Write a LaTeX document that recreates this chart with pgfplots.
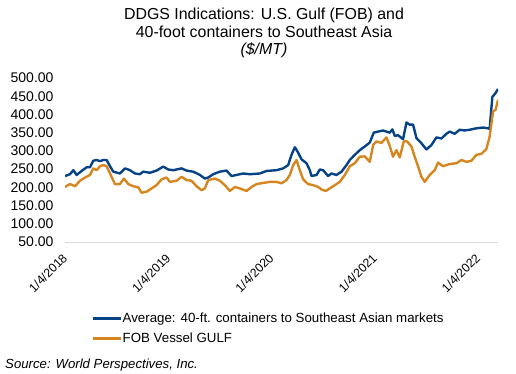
\documentclass[border=0pt]{standalone}
\usepackage{pgfplots}
\pgfplotsset{compat=1.18}
\usepackage{fontspec}
\setmainfont{Liberation Sans}
\definecolor{navy}{RGB}{6,66,134}
\definecolor{gold}{RGB}{214,134,30}
\definecolor{axgray}{RGB}{217,217,217}
\begin{document}
\begin{tikzpicture}
\useasboundingbox (0,0) rectangle (516bp,374bp);
\node[align=center, font=\fontsize{15.9bp}{17.6bp}\selectfont] at (264bp,341bp)
  {DDGS Indications: U.S. Gulf (FOB) and\\40-foot containers to Southeast Asia\\\textit{(\$/MT)}};
\node[anchor=west, font=\fontsize{13.2bp}{15bp}\selectfont\itshape, inner sep=0pt] at (5bp,9bp)
  {Source: World Perspectives, Inc.};
\begin{axis}[
  at={(65bp,132bp)}, anchor=south west,
  scale only axis, width=433bp, height=164bp,
  xmin=0, xmax=4.195, ymin=50, ymax=500,
  ytick={50,100,...,500},
  xtick={0,1,2,3,4},
  xticklabels={1/4/2018,1/4/2019,1/4/2020,1/4/2021,1/4/2022},
  /pgf/number format/assume math mode=true,
  yticklabel style={/pgf/number format/fixed, /pgf/number format/fixed zerofill, /pgf/number format/precision=2,
    font=\fontsize{14bp}{16bp}\selectfont, xshift=-8bp},
  xticklabel style={xshift=0bp, yshift=-14bp, rotate=45, anchor=east, inner sep=0pt, font=\fontsize{12.3bp}{14bp}\selectfont},
  axis x line*=bottom, axis y line*=left,
  x axis line style={draw=axgray, line width=0.9pt, -},
  y axis line style={draw=none},
  tick style={draw=none},
  legend style={at={(0.0624,-0.418)}, anchor=north west, draw=none, fill=none,
    font=\fontsize{13.3bp}{15bp}\selectfont, inner sep=0pt, row sep=5bp,
    nodes={inner xsep=0bp}},
  legend cell align=left,
  legend image code/.code={\draw[#1, line width=2.5pt] (0bp,0bp) -- (28bp,0bp);},
  line join=round,
]
\addplot[navy, line width=2.4pt] coordinates {
(0.000,231)(0.048,236)(0.081,247)(0.113,234)(0.161,245)(0.210,255)(0.242,255)(0.274,273)(0.307,275)(0.339,272)(0.371,275)(0.403,275)(0.436,258)(0.468,243)(0.532,238)(0.581,252)(0.629,247)(0.678,238)(0.726,236)(0.758,243)(0.823,240)(0.887,246)(0.952,257)(1.000,249)(1.049,247)(1.129,252)(1.178,246)(1.242,243)(1.307,234)(1.355,224)(1.388,227)(1.436,236)(1.500,243)(1.565,246)(1.614,231)(1.662,234)(1.726,238)(1.791,236)(1.888,238)(1.953,245)(2.049,247)(2.114,252)(2.162,261)(2.194,289)(2.227,310)(2.259,295)(2.291,277)(2.340,266)(2.372,247)(2.388,231)(2.437,234)(2.469,249)(2.501,247)(2.549,231)(2.581,238)(2.630,234)(2.679,243)(2.727,261)(2.759,275)(2.807,289)(2.856,302)(2.904,312)(2.953,323)(2.991,350)(3.033,353)(3.081,356)(3.114,353)(3.146,350)(3.172,359)(3.195,341)(3.227,343)(3.275,332)(3.308,378)(3.340,372)(3.372,372)(3.405,335)(3.453,321)(3.501,304)(3.550,316)(3.598,337)(3.647,334)(3.695,347)(3.727,353)(3.775,347)(3.824,358)(3.872,356)(3.921,358)(3.985,362)(4.050,364)(4.098,362)(4.114,360)(4.140,448)(4.172,459)(4.195,470)
};
\addlegendentry{Average: 40-ft. containers to Southeast Asian markets}
\addplot[gold, line width=2.4pt] coordinates {
(0.000,201)(0.048,209)(0.097,203)(0.145,218)(0.194,227)(0.242,234)(0.274,252)(0.307,247)(0.339,258)(0.371,261)(0.403,258)(0.436,238)(0.484,209)(0.532,209)(0.571,224)(0.613,209)(0.662,203)(0.710,200)(0.742,185)(0.790,188)(0.839,197)(0.887,206)(0.936,222)(0.984,227)(1.017,215)(1.081,218)(1.129,229)(1.178,220)(1.226,218)(1.275,203)(1.323,192)(1.355,197)(1.388,220)(1.452,224)(1.500,218)(1.549,206)(1.597,190)(1.646,201)(1.694,197)(1.759,190)(1.807,201)(1.856,209)(1.920,212)(1.985,215)(2.049,215)(2.098,211)(2.146,220)(2.178,234)(2.211,261)(2.243,275)(2.275,247)(2.307,222)(2.355,209)(2.404,206)(2.453,201)(2.485,194)(2.527,190)(2.565,197)(2.614,206)(2.662,215)(2.711,234)(2.759,258)(2.807,266)(2.856,284)(2.904,285)(2.953,270)(2.985,316)(3.017,326)(3.066,322)(3.114,337)(3.146,314)(3.178,284)(3.211,302)(3.243,282)(3.282,326)(3.314,326)(3.356,312)(3.388,284)(3.420,258)(3.453,229)(3.485,215)(3.533,234)(3.582,247)(3.614,268)(3.662,258)(3.727,264)(3.792,266)(3.840,275)(3.888,270)(3.937,273)(3.985,289)(4.034,292)(4.082,305)(4.114,339)(4.147,408)(4.172,413)(4.195,440)
};
\addlegendentry{FOB Vessel GULF}
\end{axis}
\end{tikzpicture}
\end{document}
